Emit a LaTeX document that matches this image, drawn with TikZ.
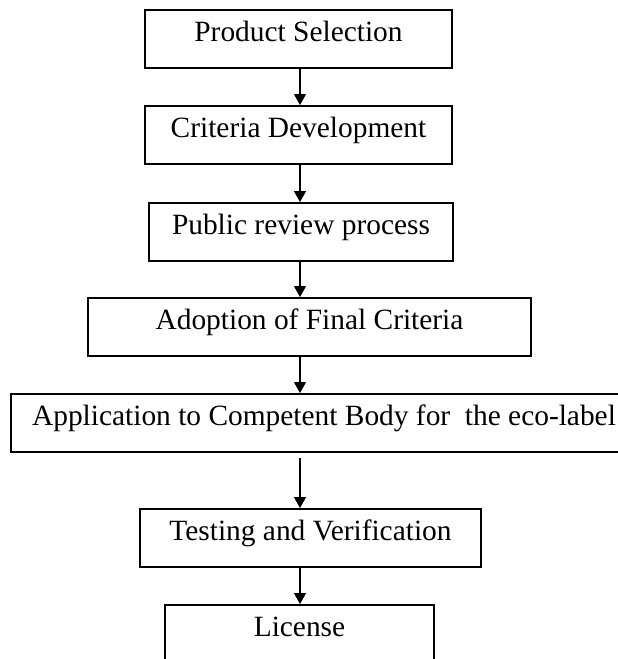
\documentclass[tikz,border=0pt]{standalone}
\usepackage{fontspec}
\setmainfont{Liberation Serif}
\usetikzlibrary{arrows.meta}
\tikzset{
  box/.style={draw, line width=1.6pt, inner xsep=0pt, inner ysep=0pt,
    text height=32pt, text depth=26pt, anchor=north,
    font=\fontsize{29.4}{35}\selectfont},
  arr/.style={line width=1.4pt, -{Triangle[length=11pt,width=12pt]}}
}
\begin{document}
\begin{tikzpicture}[x=1pt,y=1pt]
\clip (0,0) rectangle (618,-659);
\node[box, minimum width=307pt] (b1) at (298.5,-9) {Product Selection};
\node[box, minimum width=307pt] (b2) at (298.5,-105) {Criteria Development};
\node[box, minimum width=304pt] (b3) at (301,-202) {Public review process};
\node[box, minimum width=443pt] (b4) at (309.5,-297) {Adoption of Final Criteria};
\node[box, minimum width=626pt] (b5) at (324,-393) {Application to Competent Body for\ \ the eco-label};
\node[box, minimum width=341pt] (b6) at (310.5,-508) {Testing and Verification};
\node[box, minimum width=269pt, text depth=70pt] (b7) at (299.5,-604) {License};
\coordinate (ax) at (300,0);
\coordinate (a5s) at (300,-458);
\draw[arr] (b1.south -| ax) -- (b2.north -| ax);
\draw[arr] (b2.south -| ax) -- (b3.north -| ax);
\draw[arr] (b3.south -| ax) -- (b4.north -| ax);
\draw[arr] (b4.south -| ax) -- (b5.north -| ax);
\draw[arr] (a5s) -- (b6.north -| ax);
\draw[arr] (b6.south -| ax) -- (b7.north -| ax);
\end{tikzpicture}
\end{document}
